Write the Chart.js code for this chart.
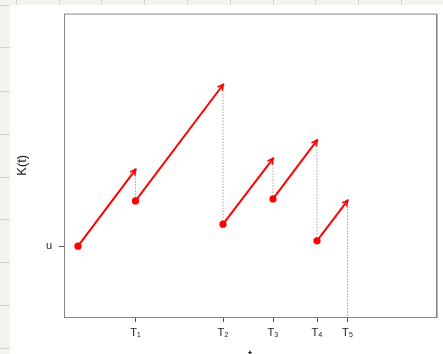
<!DOCTYPE html>
<html>
<head>
<meta charset="utf-8">
<script src="https://cdn.jsdelivr.net/npm/chart.js@4"></script>
<style>
  html, body { margin: 0; padding: 0; background: #fff; }
  canvas { display: block; }
</style>
</head>
<body>
<canvas id="myChart" width="443" height="354"></canvas>
<script>
/* globals Chart */

// risk process K(t): start level u, premiums accrue linearly, claims at T1..T5
const u = 0;
const startTimes = [0, 5.75, 14.5, 19.5, 23.9];
const claimTimes = [5.75, 14.5, 19.5, 23.9, 26.95];
const levelAfter = [u, 4.53, 2.2, 4.73, 0.53]; // level at start of each stretch
const levelBefore = [7.67, 16.17, 8.77, 10.6, 4.57]; // level just before each claim
const claimLabels = ["T₁", "T₂", "T₃", "T₄", "T₅"];

const xMin = -1.4, xMax = 35.8;
const yMin = -7.1, yMax = 23.3;

const RED = "#ff0000";
const FONT = "'Liberation Sans', Arial, 'DejaVu Sans', sans-serif";

const datasets = [];
for (let i = 0; i < startTimes.length; i++) {
  datasets.push({
    label: "seg" + i,
    kind: "seg",
    data: [
      { x: startTimes[i], y: levelAfter[i] },
      { x: claimTimes[i], y: levelBefore[i] },
    ],
    showLine: true,
    borderColor: RED,
    backgroundColor: RED,
    borderWidth: 2,
    pointRadius: (c) => (c.dataIndex === 0 ? 3.6 : 0),
    pointBorderWidth: 0,
    order: 1,
  });
}
for (let i = 0; i < claimTimes.length; i++) {
  const bottom = i + 1 < levelAfter.length ? levelAfter[i + 1] : yMin;
  datasets.push({
    label: "jump" + i,
    data: [
      { x: claimTimes[i], y: levelBefore[i] },
      { x: claimTimes[i], y: bottom },
    ],
    showLine: true,
    borderColor: "#777",
    backgroundColor: "#999",
    borderWidth: 1,
    borderDash: [1, 2],
    pointRadius: (c) => (c.dataIndex === 0 ? 1.6 : 0),
    pointBorderWidth: 0,
    order: 2,
  });
}

// spreadsheet strip behind the plot + box around the plot
const frame = {
  id: "frame",
  beforeDraw(chart) {
    const c = chart.ctx;
    c.save();
    c.fillStyle = "#f5f3ee";
    c.fillRect(0, 0, 443, 5);
    c.fillRect(0, 0, 10, 354);
    c.strokeStyle = "#d6d3cc";
    c.lineWidth = 1;
    [16, 59, 101, 144, 187, 230, 273, 315, 358, 401].forEach((x) => {
      c.beginPath(); c.moveTo(x + 0.5, 0); c.lineTo(x + 0.5, 5); c.stroke();
    });
    [5, 47, 91, 134, 177, 219, 262, 305, 348].forEach((y) => {
      c.beginPath(); c.moveTo(0, y + 0.5); c.lineTo(10, y + 0.5); c.stroke();
    });
    c.restore();
  },
  afterDraw(chart) {
    const a = chart.chartArea;
    const c = chart.ctx;
    c.save();
    c.strokeStyle = "#858585";
    c.lineWidth = 1;
    c.strokeRect(a.left + 0.5, a.top + 0.5, a.right - a.left, a.bottom - a.top);
    c.strokeStyle = "#b5b5b5";
    c.beginPath(); c.moveTo(a.right + 1.5, a.top); c.lineTo(a.right + 1.5, a.bottom + 1); c.stroke();
    c.restore();
  },
};

// open arrow heads at the end of each red stretch
const arrows = {
  id: "arrows",
  afterDatasetsDraw(chart) {
    const c = chart.ctx;
    chart.data.datasets.forEach((ds, i) => {
      if (ds.kind !== "seg") return;
      const pts = chart.getDatasetMeta(i).data;
      const p0 = pts[0], p1 = pts[1];
      const ang = Math.atan2(p1.y - p0.y, p1.x - p0.x);
      const len = 6, spread = Math.PI / 6;
      c.save();
      c.strokeStyle = RED;
      c.lineWidth = 1.6;
      c.beginPath();
      c.moveTo(p1.x - len * Math.cos(ang - spread), p1.y - len * Math.sin(ang - spread));
      c.lineTo(p1.x, p1.y);
      c.lineTo(p1.x - len * Math.cos(ang + spread), p1.y - len * Math.sin(ang + spread));
      c.stroke();
      c.restore();
    });
  },
};

const ctx = document.getElementById("myChart").getContext("2d");

/* exported myChart */
const myChart = new Chart(ctx, {
  type: "scatter",
  plugins: [frame, arrows],
  data: { datasets },
  options: {
    responsive: false,
    animation: false,
    events: [],
    layout: { padding: { left: 0, top: 13, right: 7, bottom: 0 } },
    plugins: {
      legend: { display: false },
      tooltip: { enabled: false },
    },
    scales: {
      x: {
        type: "linear",
        min: xMin,
        max: xMax,
        afterFit: (s) => { s.height = 37; },
        afterBuildTicks: (s) => { s.ticks = claimTimes.map((v) => ({ value: v })); },
        grid: { drawOnChartArea: false, tickLength: 5, tickColor: "#555" },
        border: { display: false },
        ticks: {
          autoSkip: false,
          maxRotation: 0,
          padding: 4,
          color: "#222",
          font: { family: FONT, size: 11 },
          callback: (v) => claimLabels[claimTimes.indexOf(v)],
        },
        title: {
          display: true,
          text: "t",
          color: "#222",
          font: { family: FONT, size: 11, weight: "bold" },
          padding: { top: 0, bottom: -8 },
        },
      },
      y: {
        type: "linear",
        min: yMin,
        max: yMax,
        afterFit: (s) => { s.width = 64; },
        afterBuildTicks: (s) => { s.ticks = [{ value: u }]; },
        grid: { drawOnChartArea: false, tickLength: 5, tickColor: "#555" },
        border: { display: false },
        ticks: {
          padding: 7,
          color: "#222",
          font: { family: FONT, size: 11 },
          callback: () => "u",
        },
        title: {
          display: true,
          text: "K(t)",
          color: "#222",
          font: { family: FONT, size: 13 },
          padding: { top: 15, bottom: 0 },
        },
      },
    },
  },
});
</script>
</body>
</html>
